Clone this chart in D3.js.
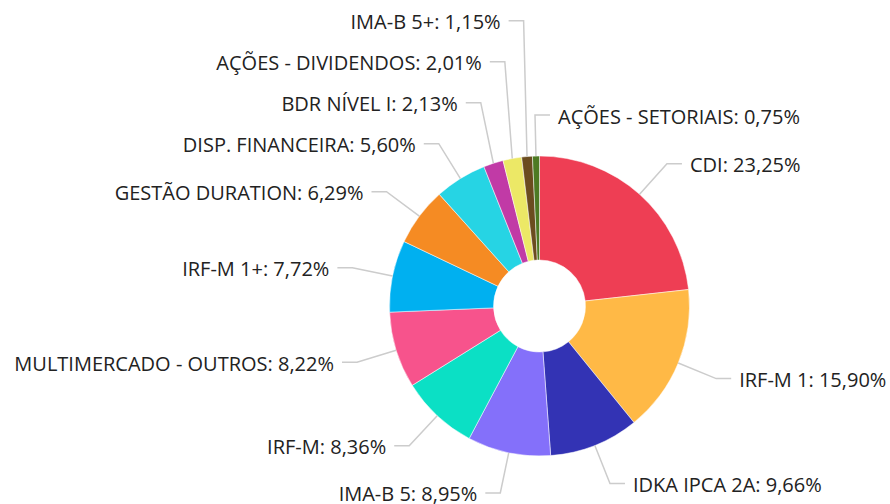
<!DOCTYPE html>
<html>
<head>
<meta charset="utf-8">
<script src="https://cdn.jsdelivr.net/npm/d3@7"></script>
<style>
  html, body { margin: 0; padding: 0; background: #fff; }
  #chart { width: 890px; height: 504px; }
  text { font-family: "Open Sans", "Noto Sans", sans-serif; }
</style>
</head>
<body>
<div id="chart"></div>
<script>
// ---------------------------------------------
// ---------          Data           -----------
// ---------------------------------------------

const categories = [
  "CDI", "IRF-M 1", "IDKA IPCA 2A", "IMA-B 5", "IRF-M",
  "MULTIMERCADO - OUTROS", "IRF-M 1+", "GESTÃO DURATION", "DISP. FINANCEIRA",
  "BDR NÍVEL I", "AÇÕES - DIVIDENDOS", "IMA-B 5+", "AÇÕES - SETORIAIS"
];
const values = [23.25, 15.90, 9.66, 8.95, 8.36, 8.22, 7.72, 6.29, 5.60, 2.13, 2.01, 1.15, 0.75];
const colors = [
  "#ee3e54", "#ffb946", "#3333b4", "#8470fa", "#0be0c5",
  "#f7538c", "#00b0f0", "#f58b23", "#26d4e4",
  "#c13aa6", "#ece866", "#6b4c1f", "#4d7a23"
];

// ---------------------------------------------
// ---------          Config         -----------
// ---------------------------------------------

const width = 890, height = 504;
const cx = 539.5, cy = 306;
const innerR = 46, outerR = 150;
const bendR = 191;      // where the leader line bends
const hLen = 15;        // horizontal part of the leader
const textGap = 8;
const labelGap = 41;    // min vertical spacing between labels on the same side

const svg = d3.select("#chart")
  .append("svg")
    .attr("width", width)
    .attr("height", height);

const g = svg.append("g")
  .attr("transform", "translate(" + cx + "," + cy + ")");

const pie = d3.pie()
  .sort(null)
  .value(d => d.value);

const arc = d3.arc()
  .innerRadius(innerR)
  .outerRadius(outerR);

const data = pie(categories.map((c, i) => ({ name: c, value: values[i], color: colors[i] })));

// slices
g.selectAll("path.slice")
  .data(data)
  .join("path")
    .attr("class", "slice")
    .attr("d", arc)
    .attr("fill", d => d.data.color)
    .attr("stroke", "#fff")
    .attr("stroke-width", 0.5);

// ---------------------------------------------
// ---------       Label layout      -----------
// ---------------------------------------------

const labels = data.map(d => {
  const mid = (d.startAngle + d.endAngle) / 2;
  const s = Math.sin(mid), c = Math.cos(mid);
  return {
    name: d.data.name,
    value: d.data.value,
    side: s > -0.05 ? 1 : -1,
    ax: s * outerR, ay: -c * outerR,
    bx: s * bendR,
    ty: -c * bendR
  };
});

// bigger slices keep their spot, smaller ones move to the nearest free slot
function placeSide(items) {
  const minY = -cy + 14, maxY = height - cy - 8;
  const placed = [];
  items.slice().sort((a, b) => b.value - a.value).forEach(it => {
    let cands = [it.ty];
    placed.forEach(p => { cands.push(p.y - labelGap, p.y + labelGap); });
    cands = cands.filter(y => y >= minY && y <= maxY &&
      placed.every(p => Math.abs(p.y - y) >= labelGap - 0.01));
    cands.sort((a, b) => Math.abs(a - it.ty) - Math.abs(b - it.ty));
    it.y = cands.length ? cands[0] : it.ty;
    placed.push(it);
  });
}
placeSide(labels.filter(l => l.side < 0));
placeSide(labels.filter(l => l.side > 0));

// leader lines
g.selectAll("path.leader")
  .data(labels)
  .join("path")
    .attr("class", "leader")
    .attr("d", d => "M" + d.ax + "," + d.ay +
                    "L" + d.bx + "," + d.y +
                    "L" + (d.bx + d.side * hLen) + "," + d.y)
    .attr("fill", "none")
    .attr("stroke", "#cccccc")
    .attr("stroke-width", 1.5);

// label texts
g.selectAll("text.label")
  .data(labels)
  .join("text")
    .attr("class", "label")
    .attr("x", d => d.bx + d.side * (hLen + textGap))
    .attr("y", d => d.y + 1)
    .attr("dominant-baseline", "central")
    .attr("text-anchor", d => d.side > 0 ? "start" : "end")
    .attr("font-size", 20)
    .attr("fill", "#222")
    .text(d => d.name + ": " + d.value.toFixed(2).replace(".", ",") + "%");
</script>
</body>
</html>
